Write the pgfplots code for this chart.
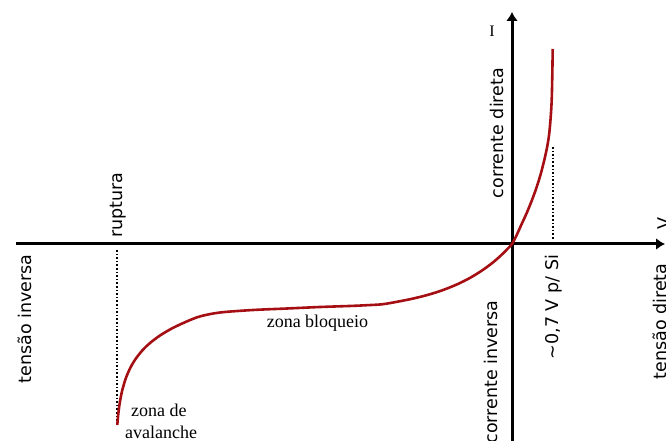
\documentclass[border=0pt]{standalone}
\usepackage{pgfplots}
\pgfplotsset{compat=1.18}
\usepackage{fontspec}
\setmainfont{Liberation Serif}
\newfontfamily\dejavu{DejaVu Sans}
\usetikzlibrary{arrows.meta}
\definecolor{curvered}{RGB}{165,15,20}
\newcommand{\sflab}{\dejavu\fontsize{17.5}{20}\selectfont}
\newcommand{\serlab}{\fontsize{18}{20}\selectfont}
\begin{document}
\begin{tikzpicture}
\useasboundingbox (-16pt,0pt) rectangle (650pt,441pt);
\clip (-16pt,0pt) rectangle (650pt,441pt);
\begin{axis}[
  at={(0pt,0pt)}, anchor=south west,
  scale only axis, width=649pt, height=429pt,
  xmin=-496, xmax=153, ymin=-197, ymax=232,
  enlargelimits=false,
  axis lines=middle,
  axis line style={line width=3pt, -{Latex[length=9pt,width=12pt]}},
  xtick=\empty, ytick=\empty,
  clip=false,
]
% dotted guide lines
\addplot[black, line width=1.6pt, dotted] coordinates {(-395,-6) (-395,-181)};
\addplot[black, line width=1.6pt, dotted] coordinates {(40.7,97) (40.7,4)};
% characteristic curve (x = V, y = I, in picture units)
\addplot[curvered, line width=2.6pt, smooth, tension=0.5] coordinates {
(-394.7,-181) (-394,-172.7) (-393,-164.1) (-392,-157.4) (-390,-147.3)
(-387,-136.6) (-384,-128.8) (-380,-120.7) (-375,-113) (-369,-105.7)
(-362,-99) (-352,-91.5) (-340,-84.4) (-326,-77.8) (-312,-72.4)
(-292,-68.5) (-259,-66) (-225,-64.5) (-192,-63) (-160,-61.9) (-145,-61.2)
(-130,-60.3) (-115,-57.8) (-100,-54.8) (-85,-51.1) (-70,-46.4) (-55,-40.4)
(-42,-33.9) (-30,-26.5) (-20,-19.2) (-12,-12.3) (-5,-5.4) (0,0)
(4,7.5) (9,18.5) (14.7,31) (20,44) (24.7,57) (29,71) (33,87) (35.5,99) (37.3,111)
(38.7,127) (39.7,144) (40.3,169) (40.7,195)
};
% labels
\node[rotate=90, font=\sflab] at (axis cs:-487,-75) {tensão inversa};
\node[rotate=90, font=\sflab] at (axis cs:-394,39) {ruptura};
\node[rotate=90, font=\sflab] at (axis cs:-15,111) {corrente direta};
\node[rotate=90, font=\sflab] at (axis cs:-21.5,-128) {corrente inversa};
\node[rotate=90, font=\sflab] at (axis cs:42,-63) {\textasciitilde 0,7 V p/ Si};
\node[rotate=90, font=\sflab] at (axis cs:148,-77.5) {tensão direta};
\node[rotate=90, font=\sflab] at (axis cs:152,20) {V};
\node[font=\fontsize{16}{18}\selectfont] at (axis cs:-20,213) {I};
\node[anchor=base, font=\serlab] at (axis cs:-194.5,-83.5) {zona bloqueio};
\node[anchor=base west, font=\serlab, inner sep=0pt] at (axis cs:-381,-173) {zona de};
\node[anchor=base west, font=\serlab, inner sep=0pt] at (axis cs:-387,-195) {avalanche};
\end{axis}
\end{tikzpicture}
\end{document}
